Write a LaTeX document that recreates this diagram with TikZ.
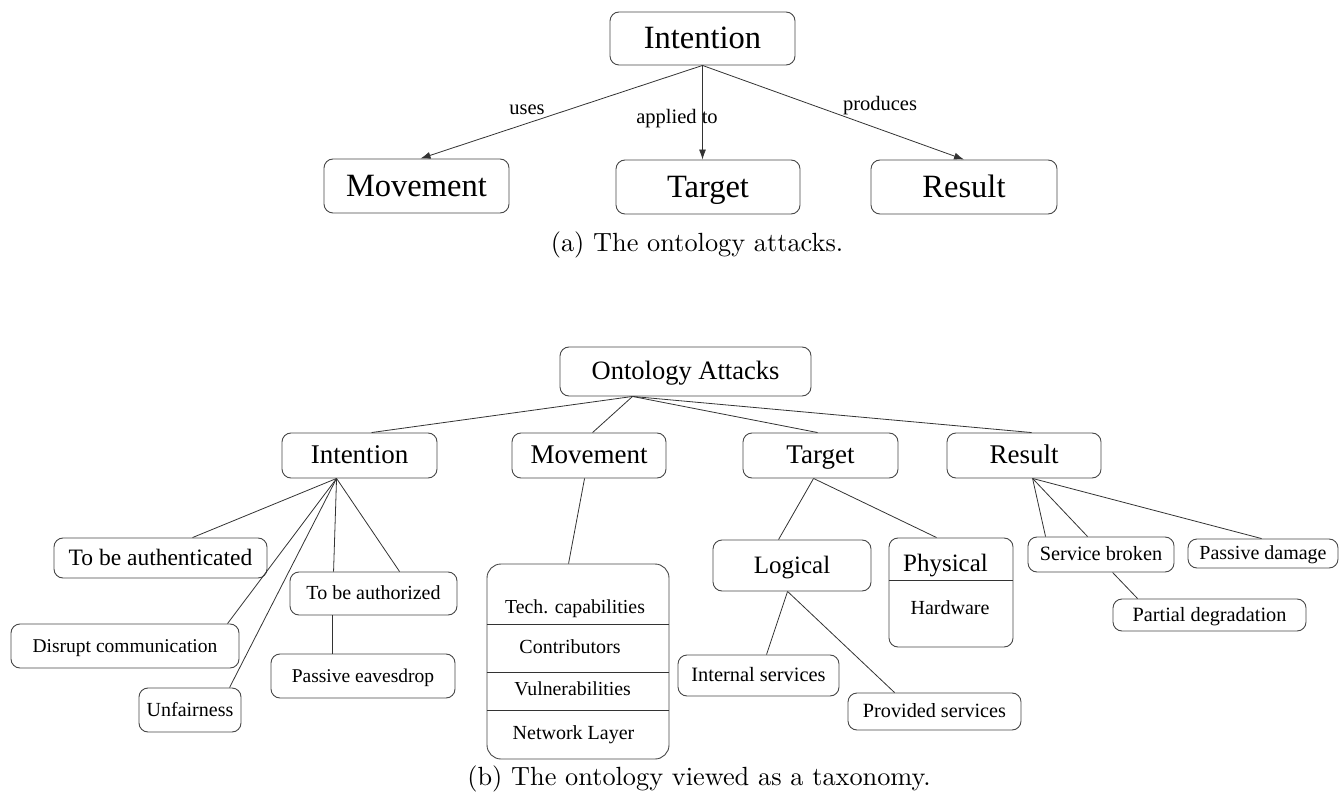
\documentclass[tikz,border=0pt]{standalone}
\usepackage{fontspec}
\setmainfont{Liberation Serif}
\newfontfamily\lmfont{lmroman10-regular.otf}
\usetikzlibrary{arrows.meta}
\def\mysz{10}
\newcommand\myfs[1]{\fontsize{#1}{#1}\selectfont\def\mysz{#1}}
\newcommand\capfs[1]{\fontsize{#1}{#1}\selectfont}
\newcommand\vstrut{\rule[-0.24\dimexpr\mysz pt\relax]{0pt}{1.1\dimexpr\mysz pt\relax}}
\begin{document}
\begin{tikzpicture}[x=1pt,y=-1pt,
  box/.style={draw=black!72, line width=0.9pt, rounded corners=9pt, inner sep=0pt, execute at begin node=\vstrut},
  ln/.style={draw=black!80, line width=0.8pt},
  arr/.style={ln, -{Latex[length=10pt,width=7pt]}},
  txt/.style={inner sep=0pt, execute at begin node=\vstrut},
  captext/.style={inner sep=0pt, font=\lmfont\capfs{26.3}}]
\useasboundingbox (0,0) rectangle (1341,799);
% ---------- (a) ----------
\node[box, minimum width=185pt, minimum height=53pt, font=\myfs{32.5}] (iT) at (702.5,38.5) {Intention};
\node[box, minimum width=185pt, minimum height=54pt, font=\myfs{32.5}] (mT) at (416.5,186) {Movement\hspace{12pt}};
\node[box, minimum width=184pt, minimum height=54pt, font=\myfs{32.5}] (tT) at (708,187) {Target};
\node[box, minimum width=186pt, minimum height=54pt, font=\myfs{32.5}] (rT) at (964,187) {Result};
\draw[arr] (iT.south) -- ([xshift=4pt]mT.north);
\draw[arr] (iT.south) -- (iT.south |- tT.north);
\draw[arr] (iT.south) -- (rT.north);
\node[txt, font=\myfs{20.5}] (luses) at (527,108) {uses};
\node[txt, font=\myfs{20.5}] (lapp) at (677,117) {applied to};
\node[txt, font=\myfs{20.5}] (lprod) at (880,104) {produces};
\node[captext] (capa) at (697,245) {(a) The ontology attacks.};
% ---------- (b) ----------
\node[box, minimum width=251pt, minimum height=49pt, font=\myfs{26.5}] (oa) at (685.5,371.5) {Ontology Attacks\hspace{20pt}};
\node[box, minimum width=155pt, minimum height=45pt, font=\myfs{27}] (iB) at (359.5,455.5) {Intention};
\node[box, minimum width=154pt, minimum height=45pt, font=\myfs{27}] (mB) at (589,455.5) {Movement};
\node[box, minimum width=155pt, minimum height=45pt, font=\myfs{27}] (tB) at (820.5,455.5) {Target};
\node[box, minimum width=154pt, minimum height=45pt, font=\myfs{27}] (rB) at (1024,455.5) {Result};
\draw[ln] ([xshift=73pt]oa.south west) -- ([xshift=90pt]iB.north west);
\draw[ln] ([xshift=73pt]oa.south west) -- ([xshift=81pt]mB.north west);
\draw[ln] ([xshift=73pt]oa.south west) -- ([xshift=75pt]tB.north west);
\draw[ln] ([xshift=73pt]oa.south west) -- ([xshift=85pt]rB.north west);
% Intention children
\node[box, minimum width=213pt, minimum height=40pt, font=\myfs{23.5}] (auth) at (160.5,558) {To be authenticated};
\node[box, minimum width=228pt, minimum height=44pt, font=\myfs{19.5}] (disr) at (125,646) {Disrupt communication\hspace{14pt}};
\node[box, minimum width=102pt, minimum height=44pt, font=\myfs{20}] (unf) at (190,710) {Unfairness};
\node[box, minimum width=167pt, minimum height=43pt, font=\myfs{20}] (authz) at (373.5,593.5) {To be authorized};
\node[box, minimum width=184pt, minimum height=44pt, font=\myfs{19.5}] (eav) at (363,676) {Passive eavesdrop};
\draw[ln] ([xshift=55pt]iB.south west) -- ([xshift=139pt]auth.north west);
\draw[ln] ([xshift=55pt]iB.south west) -- ([xshift=217pt]disr.north west);
\draw[ln] ([xshift=55pt]iB.south west) -- ([xshift=91pt]unf.north west);
\draw[ln] ([xshift=55pt]iB.south west) -- ([xshift=44pt]authz.north west);
\draw[ln] ([xshift=55pt]iB.south west) -- ([xshift=110pt]authz.north west);
\draw[ln] ([xshift=43pt]authz.south west) -- ([xshift=62pt]eav.north west);
% Movement child (compartments)
\node[box, rounded corners=14pt, minimum width=182pt, minimum height=195pt] (comp) at (578,661.5) {};
\coordinate (s1) at (0,624);
\coordinate (s2) at (0,672);
\coordinate (s3) at (0,710);
\draw[ln] (comp.west |- s1) -- (comp.east |- s1);
\draw[ln] (comp.west |- s2) -- (comp.east |- s2);
\draw[ln] (comp.west |- s3) -- (comp.east |- s3);
\node[txt, font=\myfs{19.8}] (c1) at (575,607) {Tech. capabilities};
\node[txt, font=\myfs{20}] (c2) at (570,647) {Contributors};
\node[txt, font=\myfs{19.8}] (c3) at (572.5,689) {Vulnerabilities};
\node[txt, font=\myfs{20}] (c4) at (573.5,733) {Network Layer};
\draw[ln] ([xshift=73pt]mB.south west) -- ([xshift=82pt]comp.north west);
% Target children
\node[box, minimum width=158pt, minimum height=51pt, font=\myfs{25}] (logi) at (792,565.5) {Logical};
\node[box, minimum width=124pt, minimum height=109pt] (phys) at (951,592.5) {};
\coordinate (s4) at (0,580);
\draw[ln] (phys.west |- s4) -- (phys.east |- s4);
\node[txt, font=\myfs{25}] (physt) at (945.5,564) {Physical};
\node[txt, font=\myfs{20}] (hw) at (950,608) {Hardware};
\draw[ln] ([xshift=71pt]tB.south west) -- ([xshift=66pt]logi.north west);
\draw[ln] ([xshift=71pt]tB.south west) -- ([xshift=48pt]phys.north west);
\node[box, minimum width=161pt, minimum height=41pt, font=\myfs{20.4}] (intl) at (758.5,675.5) {Internal services};
\node[box, minimum width=173pt, minimum height=37pt, font=\myfs{20.2}] (prov) at (934.5,711.5) {Provided services};
\draw[ln] ([xshift=75pt]logi.south west) -- ([xshift=89pt]intl.north west);
\draw[ln] ([xshift=75pt]logi.south west) -- ([xshift=47pt]prov.north west);
% Result children
\node[box, minimum width=146pt, minimum height=35pt, font=\myfs{20.3}] (sb) at (1101,554.5) {Service broken};
\node[box, minimum width=150pt, minimum height=29pt, font=\myfs{20}] (pd) at (1263,553.5) {Passive damage};
\node[box, minimum width=193pt, minimum height=32pt, font=\myfs{20.3}] (pdeg) at (1209.5,615) {Partial degradation};
\draw[ln] ([xshift=86pt]rB.south west) -- ([xshift=18pt]sb.north west);
\draw[ln] ([xshift=86pt]rB.south west) -- ([xshift=60pt]sb.north west);
\draw[ln] ([xshift=86pt]rB.south west) -- ([xshift=74pt]pd.north west);
\draw[ln] ([xshift=85pt]sb.south west) -- ([xshift=25pt]pdeg.north west);
\node[captext] (capb) at (699,779) {(b) The ontology viewed as a taxonomy.};
\end{tikzpicture}
\end{document}
